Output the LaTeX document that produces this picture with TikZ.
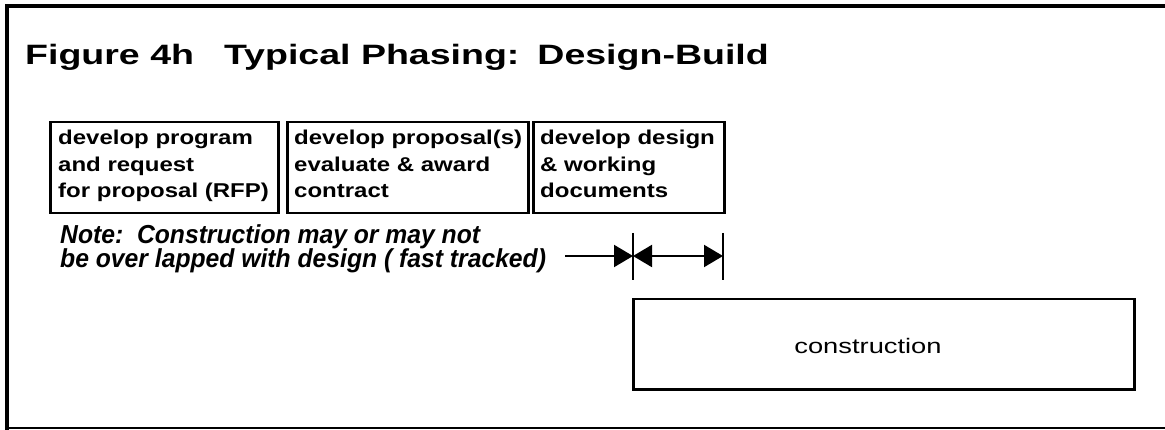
\documentclass[tikz,border=0pt]{standalone}
\usepackage{fontspec}
\setmainfont{Liberation Sans}
\newfontfamily\titlefont[FakeStretch=1.34]{Liberation Sans Bold}
\newfontfamily\boxfont[FakeStretch=1.2]{Liberation Sans Bold}
\newfontfamily\consfont[FakeStretch=1.3]{Liberation Sans}
\newfontfamily\notefont[FakeStretch=0.95]{Liberation Sans Bold Italic}
\usetikzlibrary{arrows.meta}
\tikzset{
  frameline/.style={line width=4pt, line cap=rect},
  phasebox/.style={draw, line width=2.5pt, inner sep=0pt, anchor=north west},
  boxline/.style={anchor=base west, inner sep=0pt, font=\boxfont\fontsize{20}{20}\selectfont},
  noteline/.style={anchor=base west, inner sep=0pt, font=\notefont\fontsize{26}{26}\selectfont},
  tickline/.style={line width=2pt},
  dimline/.style={line width=2pt},
  tip/.tip={Triangle[length=19pt,width=22pt]}
}
\begin{document}
\begin{tikzpicture}[x=1pt,y=-1pt]
\useasboundingbox (0,0) rectangle (1165,430);
% frame
\coordinate (ftr) at (1165,6);
\coordinate (ftl) at (7,6);
\coordinate (fbl) at (7,428);
\coordinate (fbr) at (1165,428);
\draw[frameline] (ftr) -- (ftl) -- (fbl);
\draw[line width=2.5pt] (fbl) -- (fbr);
% title
\node[anchor=base west, inner sep=0pt, font=\titlefont\fontsize{28}{28}\selectfont] (title) at (25,65)
  {Figure 4h\hspace{30pt}Typical Phasing:\hspace{18pt}Design-Build};
% phase boxes
\node[phasebox, minimum width=228pt, minimum height=91pt] (b1) at (49,121) {};
\node[phasebox, minimum width=241pt, minimum height=91pt] (b2) at (286,121) {};
\node[phasebox, minimum width=191pt, minimum height=91pt] (b3) at (532,121) {};
\node[boxline] (b1l1) at (58,145) {develop program};
\node[boxline] (b1l2) at (58,171.5) {and request};
\node[boxline] (b1l3) at (58,198) {for proposal (RFP)};
\node[boxline] (b2l1) at (294,145) {develop proposal(s)};
\node[boxline] (b2l2) at (294,171.5) {evaluate \& award};
\node[boxline] (b2l3) at (294,198) {contract};
\node[boxline] (b3l1) at (540,145) {develop design};
\node[boxline] (b3l2) at (540,171.5) {\& working};
\node[boxline] (b3l3) at (540,198) {documents};
% note
\node[noteline] (n1) at (60,244) {Note:\ \ Construction may or may not};
\node[noteline] (n2) at (60,268) {be over lapped with design ( fast tracked)};
% dimension marks
\coordinate (d0) at (565,256);
\coordinate (d1) at (633,256);
\coordinate (d2) at (723,256);
\coordinate (k1t) at (633,233);
\coordinate (k1b) at (633,280);
\coordinate (k2t) at (723,233);
\coordinate (k2b) at (723,280);
\draw[tickline] (k1t) -- (k1b);
\draw[tickline] (k2t) -- (k2b);
\draw[dimline, -{tip}] (d0) -- (d1);
\draw[dimline, {tip}-{tip}] (d1) -- (d2);
% construction
\node[phasebox, minimum width=501pt, minimum height=90pt] (cons) at (632,298) {};
\node[anchor=base, inner sep=0pt, font=\consfont\fontsize{21}{21}\selectfont] (ctext) at (868,353) {construction};
\end{tikzpicture}
\end{document}
